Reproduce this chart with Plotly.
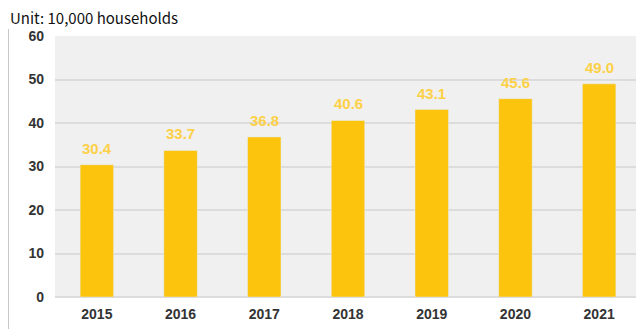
import plotly.graph_objects as go

years = ["2015", "2016", "2017", "2018", "2019", "2020", "2021"]
households = [30.4, 33.7, 36.8, 40.6, 43.1, 45.6, 49.0]
y_ticks = [0, 10, 20, 30, 40, 50, 60]

# page body has an 8px margin, so figure coords = screenshot coords - 8
OFF = 8
W, H = 644, 329
ML, MT = 55 - OFF, 36 - OFF
MR = W - (641 - OFF)
MB = H - (297 - OFF)
pw, ph = W - ML - MR, H - MT - MB

fig = go.Figure(go.Bar(
    x=years, y=households,
    marker=dict(color="#fcc40c"),
    width=0.4,
    hoverinfo="x+y",
))

label_annotations = [
    dict(x=i, y=v, xref="x", yref="y", text=f"{v:.1f}", showarrow=False,
         yanchor="bottom", yshift=6,
         font=dict(family="Liberation Sans", size=15, color="#fdd048", weight="bold"))
    for i, v in enumerate(households)
]

fig.update_layout(
    width=W, height=H,
    margin=dict(l=ML, r=MR, t=MT, b=MB, autoexpand=False),
    paper_bgcolor="white",
    plot_bgcolor="#f0f0f0",
    showlegend=False,
    xaxis=dict(type="category", range=[-0.5, len(years) - 0.5], showgrid=False, automargin=False,
               tickfont=dict(family="Liberation Sans", size=14, color="#333333", weight="bold"),
               ticklabelstandoff=7, ticks="", showline=False),
    yaxis=dict(range=[0, 60], tickvals=y_ticks, gridcolor="#dcdcdc", gridwidth=1.5,
               automargin=False,
               tickfont=dict(family="Liberation Sans", size=14, color="#333333", weight="bold"),
               ticklabelstandoff=10, zeroline=True, zerolinecolor="#dcdcdc", zerolinewidth=1.5),
    font=dict(family="Liberation Sans"),
    annotations=label_annotations + [
        dict(text="Unit: 10,000 households", x=(8 - OFF - ML) / pw, xref="paper", xanchor="left",
             y=1.0 + (36 - 17) / ph, yref="paper", yanchor="middle", showarrow=False,
             font=dict(family="Noto Sans CJK SC", size=15, color="#111111"))],
    shapes=[dict(type="line", xref="paper", yref="paper",
                 x0=(0.5 - ML) / pw, x1=(0.5 - ML) / pw,
                 y0=-MB / ph, y1=1.0 + (36 - 29) / ph,
                 line=dict(color="#c8c8c8", width=1))],
)

fig.write_html("out.html")
